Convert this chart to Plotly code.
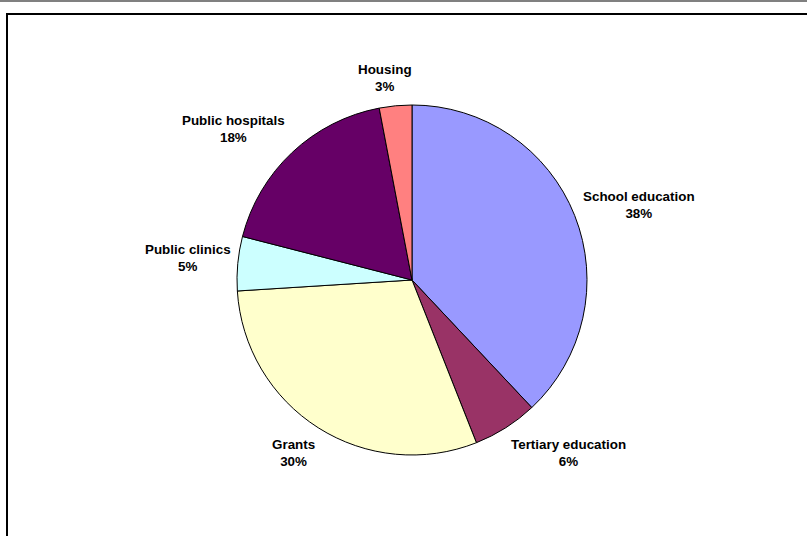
import plotly.graph_objects as go

# Spending shares by category (percent of total)
categories = ["School education", "Tertiary education", "Grants",
              "Public clinics", "Public hospitals", "Housing"]
shares = [38, 6, 30, 5, 18, 3]
slice_colors = ["#9999FF", "#993366", "#FFFFCC", "#CCFFFF", "#660066", "#FF8080"]

W, H = 807, 536
cx, cy, R = 412, 280, 175  # pie centre and radius in px

# Where each data label sits (centre of the text block, px from top-left)
label_pos = [(639, 205.5), (568, 452.5), (293, 452.5),
             (187.5, 258), (233.5, 128.5), (385, 78.5)]

FONT = dict(family="Liberation Sans, Arial, sans-serif", size=13.4, color="black")

fig = go.Figure(go.Pie(
    labels=categories,
    values=shares,
    sort=False,
    direction="clockwise",
    rotation=0,
    marker=dict(colors=slice_colors, line=dict(color="black", width=1)),
    textinfo="none",
    showlegend=False,
    hoverinfo="label+percent",
    domain=dict(x=[(cx - R) / W, (cx + R) / W],
                y=[(H - cy - R) / H, (H - cy + R) / H]),
))

total = sum(shares)
annotations = []
for name, val, (px, py) in zip(categories, shares, label_pos):
    pct = round(100 * val / total)
    annotations.append(dict(
        xref="paper", yref="paper", x=px / W, y=1 - py / H,
        xanchor="center", yanchor="middle", showarrow=False,
        text=f"<b>{name}</b><br><b>{pct}%</b>", font=FONT, align="center",
    ))

fig.update_layout(
    width=W, height=H,
    margin=dict(l=0, r=0, t=0, b=0),
    paper_bgcolor="white",
    plot_bgcolor="white",
    annotations=annotations,
    shapes=[
        # thin grey rule along the top edge
        dict(type="line", xref="paper", yref="paper",
             x0=0, x1=1, y0=1 - 1 / H, y1=1 - 1 / H,
             line=dict(color="#808080", width=2)),
        # chart-area frame
        dict(type="rect", xref="paper", yref="paper",
             x0=7 / W, x1=1.05, y0=1 - 14 / H, y1=-0.05,
             line=dict(color="black", width=2), fillcolor="rgba(0,0,0,0)"),
    ],
)

fig.write_html("out.html")
